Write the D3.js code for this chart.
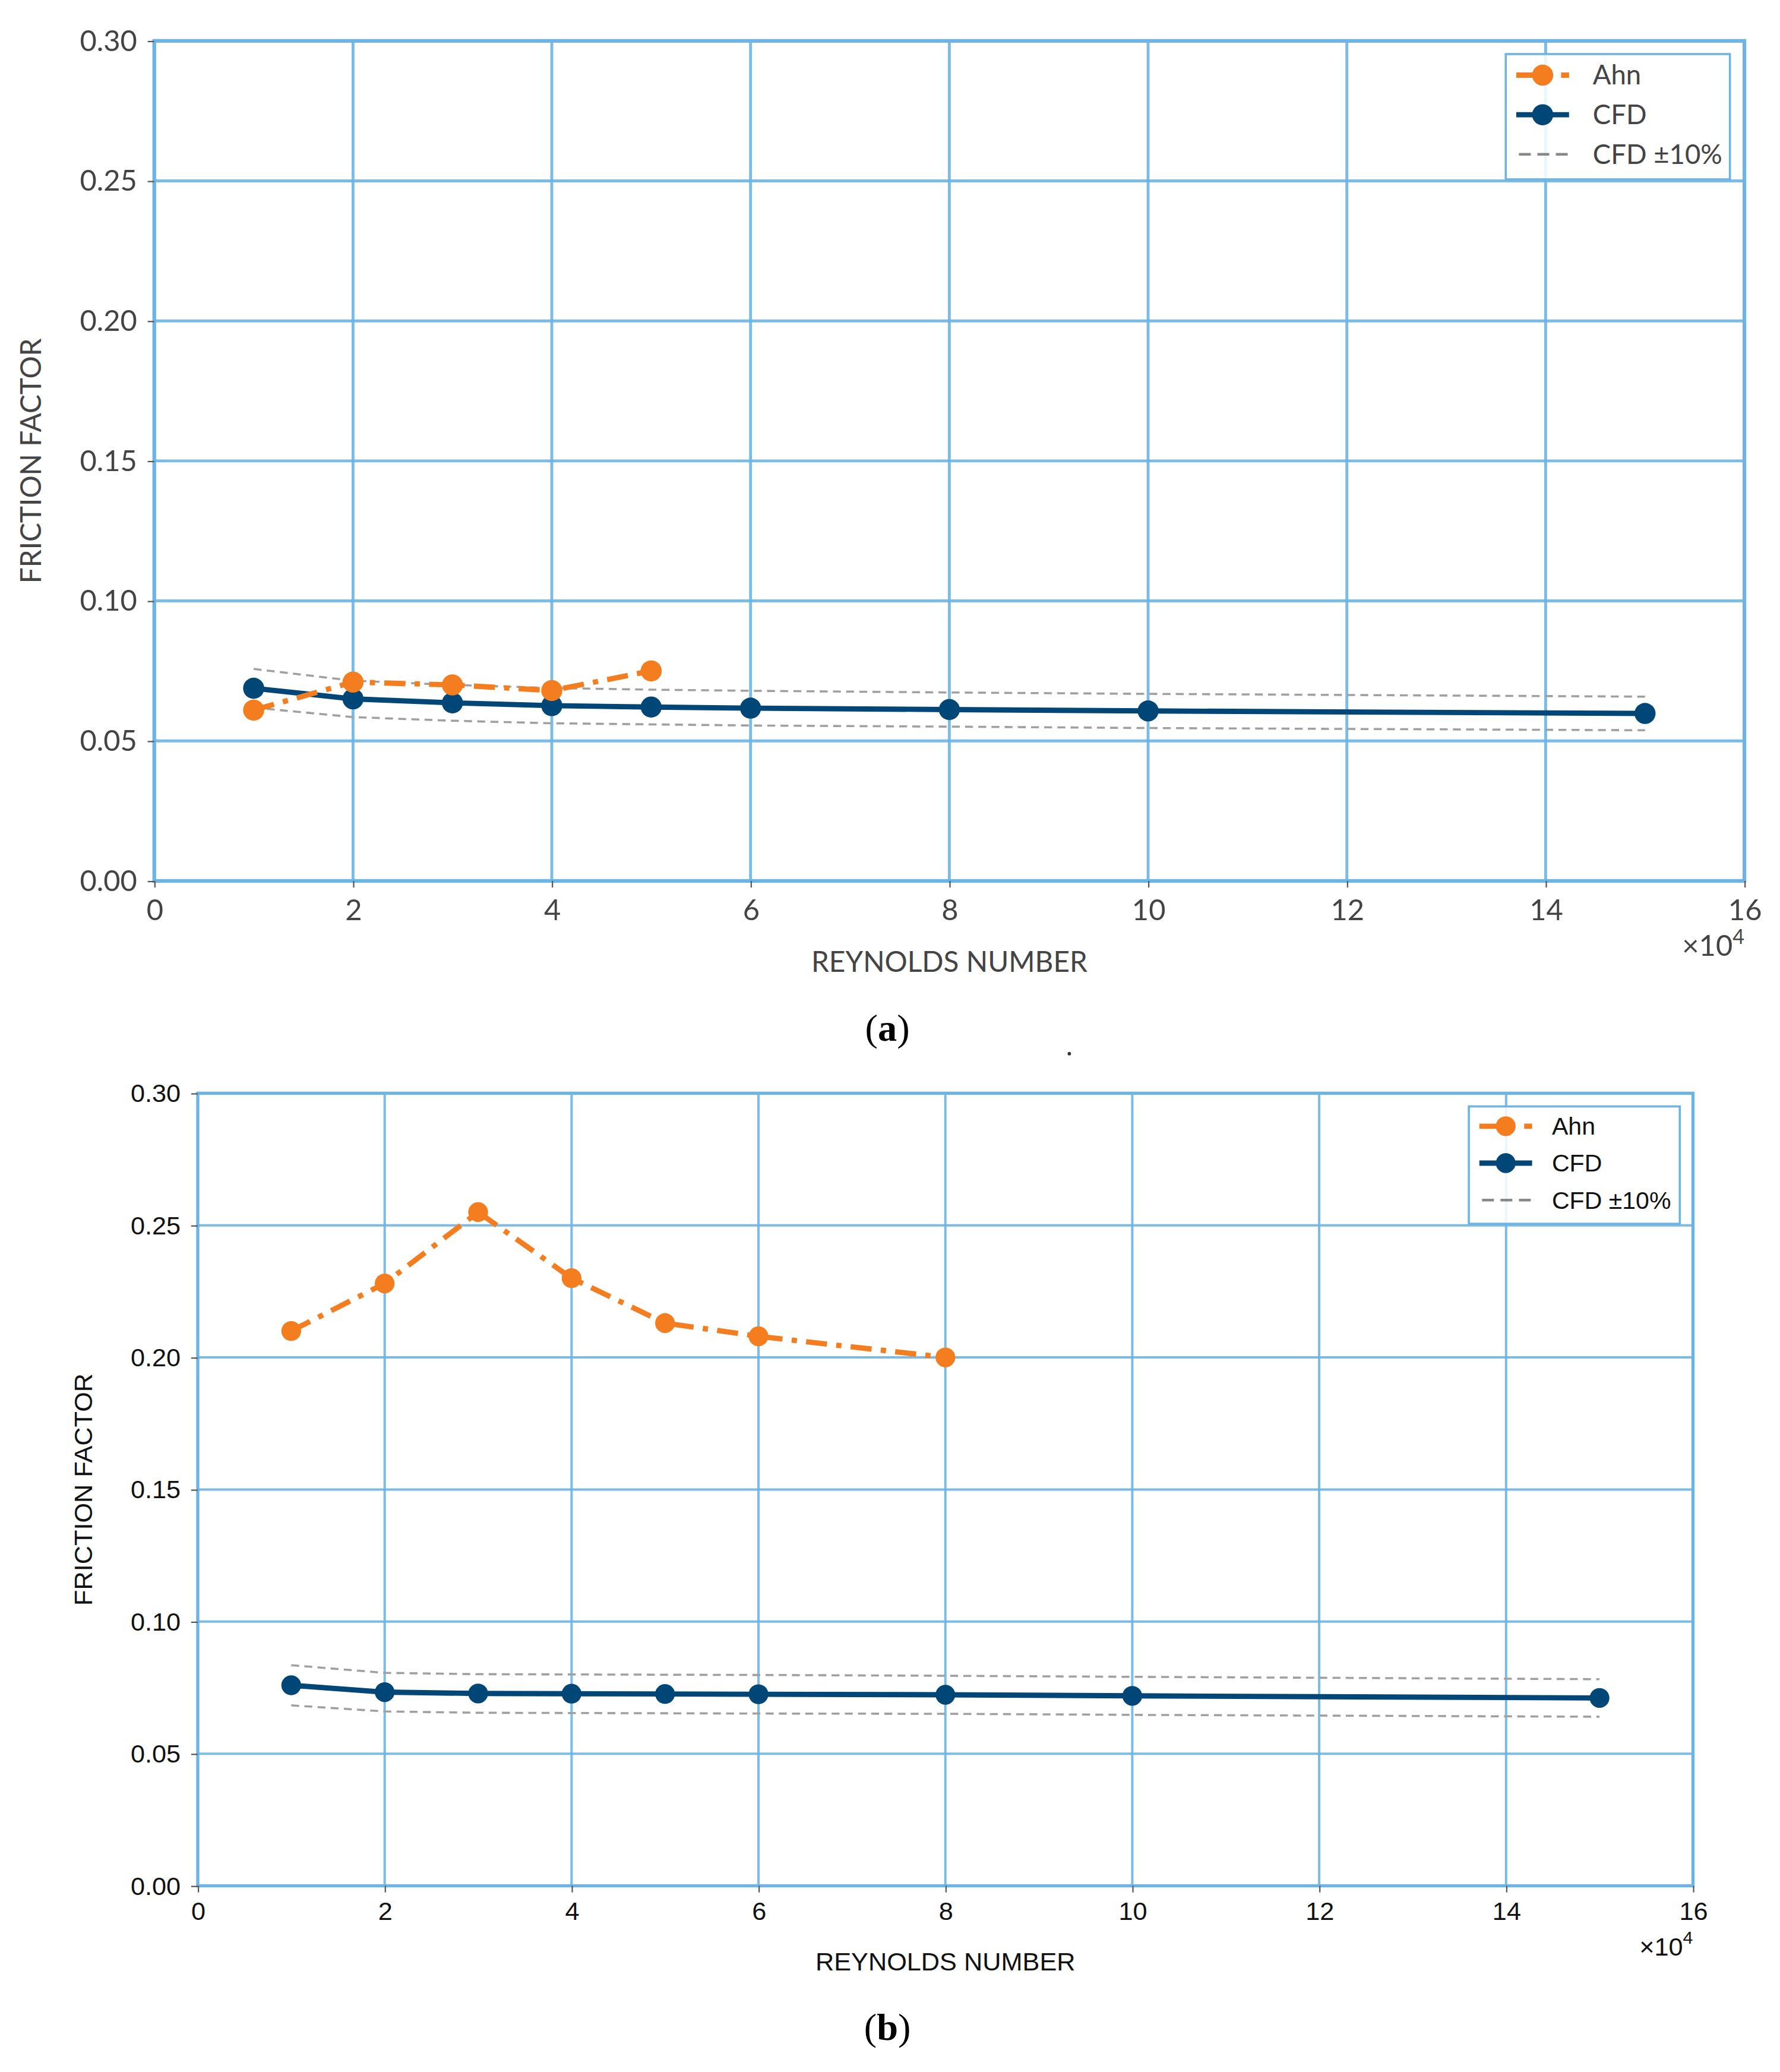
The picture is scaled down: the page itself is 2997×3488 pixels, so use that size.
<!DOCTYPE html>
<html><head><meta charset="utf-8">
<script src="https://cdn.jsdelivr.net/npm/d3@7"></script>
<style>html,body{margin:0;padding:0;background:#fff;}</style>
</head><body>
<svg id="c"></svg>
<script>
// ---- data ----
const xTicks = [0,2,4,6,8,10,12,14,16];
const yTicks = [0,0.05,0.10,0.15,0.20,0.25,0.30];
const cfdX = [1,2,3,4,5,6,8,10,15];
const ahnXA = [1,2,3,4,5];
const ahnA = [0.061,0.071,0.070,0.068,0.075];
const cfdA = [0.0688,0.0650,0.0636,0.0626,0.0621,0.0617,0.0612,0.0607,0.0598];
const cfdUpA = [0.0757,0.0715,0.0700,0.0689,0.0683,0.0679,0.0673,0.0668,0.0658];
const cfdLoA = [0.0619,0.0585,0.0572,0.0563,0.0559,0.0555,0.0551,0.0546,0.0538];
const ahnXB = [1,2,3,4,5,6,8];
const ahnB = [0.210,0.228,0.255,0.230,0.213,0.208,0.200];
const cfdB = [0.0759,0.0733,0.0728,0.0727,0.0726,0.0725,0.0723,0.0719,0.0711];
const cfdUpB = [0.0835,0.0806,0.0801,0.0800,0.0799,0.0798,0.0795,0.0791,0.0782];
const cfdLoB = [0.0683,0.0660,0.0655,0.0654,0.0653,0.0652,0.0651,0.0647,0.0640];
const legendLabels = ["Ahn","CFD","CFD \u00b110%"];

const W=1350, H=1571.2;
const svg = d3.select("#c").attr("width",2997).attr("height",3488)
  .attr("viewBox",`0 0 ${W} ${H}`).attr("preserveAspectRatio","none");
svg.append("rect").attr("width",W).attr("height",H).attr("fill","#fff");

const ORANGE="#f47d20", NAVY="#004677", GRID="#6cb4e6", GRAY="#a0a0a0";

function panel(o){
  const g = svg.append("g");
  const x = d3.scaleLinear().domain([0,16]).range([o.l,o.r]);
  const y = d3.scaleLinear().domain([0,0.30]).range([o.b,o.t]);
  g.selectAll(".gx").data(xTicks).join("line")
    .attr("x1",d=>x(d)).attr("x2",d=>x(d)).attr("y1",o.t).attr("y2",o.b)
    .attr("stroke",GRID).attr("stroke-width",o.gw).attr("opacity",0.9);
  g.selectAll(".gy").data(yTicks).join("line")
    .attr("y1",d=>y(d)).attr("y2",d=>y(d)).attr("x1",o.l).attr("x2",o.r)
    .attr("stroke",GRID).attr("stroke-width",o.gw).attr("opacity",0.9);
  g.append("rect").attr("x",o.l).attr("y",o.t).attr("width",o.r-o.l).attr("height",o.b-o.t)
    .attr("fill","none").attr("stroke",GRID).attr("stroke-width",o.gw+0.6);
  const ax = g.append("g").attr("transform",`translate(0,${o.b})`)
    .call(d3.axisBottom(x).tickValues(xTicks).tickFormat(d3.format("d")).tickSize(5).tickPadding(o.xpad));
  const ay = g.append("g").attr("transform",`translate(${o.l},0)`)
    .call(d3.axisLeft(y).tickValues(yTicks).tickFormat(d3.format(".2f")).tickSize(5).tickPadding(o.ypad));
  [ax,ay].forEach(a=>{
    a.select(".domain").remove();
    a.selectAll("line").attr("stroke","#555").attr("stroke-width",1);
    a.selectAll("text").attr("font-family",o.font).attr("font-size",o.fs).attr("fill",o.tc);
  });
  g.append("text").attr("x",(o.l+o.r)/2).attr("y",o.xtY).attr("text-anchor","middle")
    .attr("font-family",o.font).attr("font-size",o.tfs).attr("fill",o.tc).text("REYNOLDS NUMBER");
  g.append("text").attr("transform",`translate(${o.ytX},${(o.t+o.b)/2+ o.ytOff}) rotate(-90)`).attr("text-anchor","middle")
    .attr("font-family",o.font).attr("font-size",o.tfs).attr("fill",o.tc).text("FRICTION FACTOR");
  const mult = g.append("text").attr("x",o.r).attr("y",o.multY).attr("text-anchor","end")
    .attr("font-family",o.font).attr("font-size",o.fs).attr("fill",o.tc);
  mult.append("tspan").text("\u00d710");
  mult.append("tspan").attr("dy",-9).attr("font-size",o.fs*0.7).text("4");
  const line = d3.line().x(d=>x(d[0])).y(d=>y(d[1]));
  const band = (xs,ys)=>g.append("path").datum(xs.map((v,i)=>[v,ys[i]])).attr("d",line)
    .attr("fill","none").attr("stroke",GRAY).attr("stroke-width",1.6).attr("stroke-dasharray","6,4");
  band(cfdX,o.up); band(cfdX,o.lo);
  const cfdPts = cfdX.map((v,i)=>[v,o.cfd[i]]);
  const ahnPts = o.ahnX.map((v,i)=>[v,o.ahn[i]]);
  const drawSeries=(pts,color,dash)=>{
    g.append("path").datum(pts).attr("d",line).attr("fill","none").attr("stroke",color)
      .attr("stroke-width",o.lw).attr("stroke-dasharray",dash).attr("stroke-linejoin","round");
    g.selectAll(null).data(pts).join("circle").attr("cx",d=>x(d[0])).attr("cy",d=>y(d[1]))
      .attr("r",o.mr).attr("fill",color);
  };
  if(o.cfdFirst){ drawSeries(cfdPts,NAVY,null); drawSeries(ahnPts,ORANGE,"16,7,4,7"); }
  else { drawSeries(ahnPts,ORANGE,"16,7,4,7"); drawSeries(cfdPts,NAVY,null); }
  const L=o.leg;
  g.append("rect").attr("x",L.x).attr("y",L.y).attr("width",L.w).attr("height",L.h)
    .attr("fill","#fff").attr("fill-opacity",0.85).attr("stroke",GRID).attr("stroke-width",1.6);
  const lg = g.selectAll(".lg").data(legendLabels).join("g")
    .attr("transform",(d,i)=>`translate(${L.x+8},${L.y+L.first+i*L.step})`);
  lg.each(function(d,i){
    const e=d3.select(this);
    if(i===0){
      e.append("line").attr("x1",0).attr("x2",40).attr("stroke",ORANGE).attr("stroke-width",o.lw).attr("stroke-dasharray","16,7,4,7");
      e.append("circle").attr("cx",20).attr("r",o.mr).attr("fill",ORANGE);
    } else if(i===1){
      e.append("line").attr("x1",0).attr("x2",40).attr("stroke",NAVY).attr("stroke-width",o.lw);
      e.append("circle").attr("cx",20).attr("r",o.mr).attr("fill",NAVY);
    } else {
      e.append("line").attr("x1",2).attr("x2",40).attr("stroke","#888").attr("stroke-width",2).attr("stroke-dasharray","9,5");
    }
    e.append("text").attr("x",L.tx).attr("dy","0.35em").attr("font-family",o.font)
      .attr("font-size",L.fs).attr("fill",o.tc).text(d);
  });
  const cap = svg.append("text").attr("x",o.capX).attr("y",o.capY).attr("text-anchor","middle")
    .attr("font-family","Liberation Serif, Times New Roman, serif").attr("font-size",29).attr("fill","#000");
  cap.append("tspan").text("(");
  cap.append("tspan").attr("font-weight","bold").text(o.cap);
  cap.append("tspan").text(")");
}

panel({l:117,r:1323,t:31,b:668,gw:2.2,font:"Lato, 'Open Sans', sans-serif",fs:22,tfs:21.5,tc:"#444",
  xpad:9,ypad:8,xtY:737,ytX:31,ytOff:0,multY:725,
  up:cfdUpA,lo:cfdLoA,cfd:cfdA,ahn:ahnA,ahnX:ahnXA,lw:4,mr:8,cfdFirst:true,
  leg:{x:1142,y:41,w:170,h:95,first:16,step:30,tx:58,fs:20.5},
  cap:"a",capX:673,capY:789});

panel({l:150,r:1284,t:829,b:1430,gw:1.8,font:"'Liberation Sans', Arial, sans-serif",fs:19.5,tfs:19.5,tc:"#111",
  xpad:7,ypad:8,xtY:1494,ytX:70,ytOff:0,multY:1483,
  up:cfdUpB,lo:cfdLoB,cfd:cfdB,ahn:ahnB,ahnX:ahnXB,lw:4,mr:7.5,cfdFirst:false,
  leg:{x:1114,y:839,w:160,h:89,first:15,step:28,tx:55,fs:18.5},
  cap:"b",capX:673,capY:1547});

svg.append("circle").attr("cx",811).attr("cy",799).attr("r",1.3).attr("fill","#333");
</script>
</body></html>
